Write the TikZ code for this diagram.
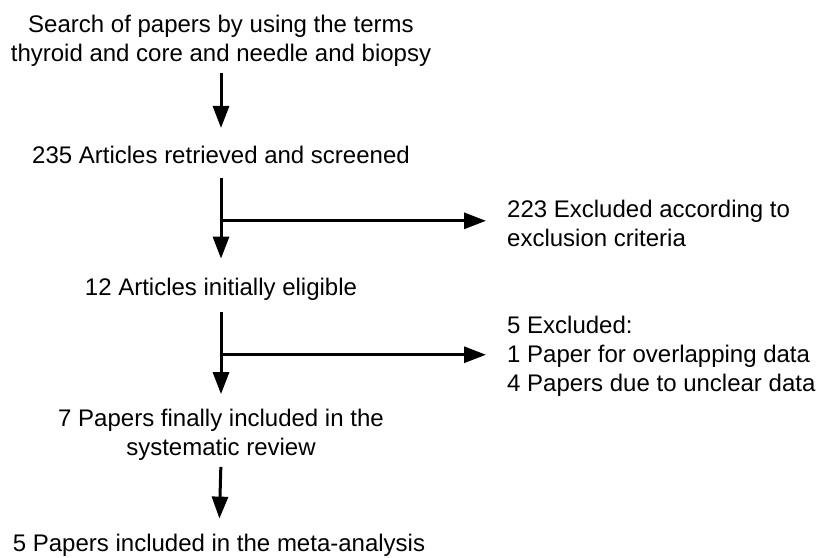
\documentclass[tikz,border=0pt]{standalone}
\usepackage{fontspec}
\setmainfont{Liberation Sans}
\usetikzlibrary{arrows.meta,calc}
\begin{document}
\begin{tikzpicture}[x=1pt,y=-1pt,
  txt/.style={inner sep=0pt, font=\fontsize{24}{29}\selectfont},
  arr/.style={line width=3pt, -{Triangle[length=22pt,width=16pt]}}]
\useasboundingbox (0,0) rectangle (819,557);
\node[txt, align=center] (n1) at (221,41) {Search of papers by using the terms\\thyroid and core and needle and biopsy};
\node[txt] (n2) at (221,155) {235 Articles retrieved and screened};
\node[txt] (n3) at (221,289) {12 Articles initially eligible};
\node[txt, align=center] (n4) at (221,435) {7 Papers finally included in the\\systematic review};
\node[txt] (n5) at (219,545) {5 Papers included in the meta-analysis};
\node[txt, align=left, anchor=west] (e1) at (507,223) {223 Excluded according to\\exclusion criteria};
\node[txt, align=left, anchor=west] (e2) at (507,356) {5 Excluded:\\1 Paper for overlapping data\\4 Papers due to unclear data};
% vertical arrows
\draw[arr, shorten <=6pt, shorten >=18pt] (n1.south) -- (n2.north);
\draw[arr, shorten <=14pt, shorten >=19pt] (n2.south) -- (n3.north);
\draw[arr, shorten <=12pt, shorten >=15pt] (n3.south) -- (n4.north);
\draw[arr, shorten <=6pt, shorten >=15pt] (n4.south) -- (n5.north);
% branches
\coordinate (b1) at ($(n2.south)!0.5!(n3.north)$);
\coordinate (b2) at ($(n3.south)!0.5!(n4.north)$);
\draw[arr, shorten >=21pt] ([xshift=-1.5pt]b1) -- (b1 -| e1.west);
\draw[arr, shorten >=21pt] ([xshift=-1.5pt]b2) -- (b2 -| e2.west);
\end{tikzpicture}
\end{document}
